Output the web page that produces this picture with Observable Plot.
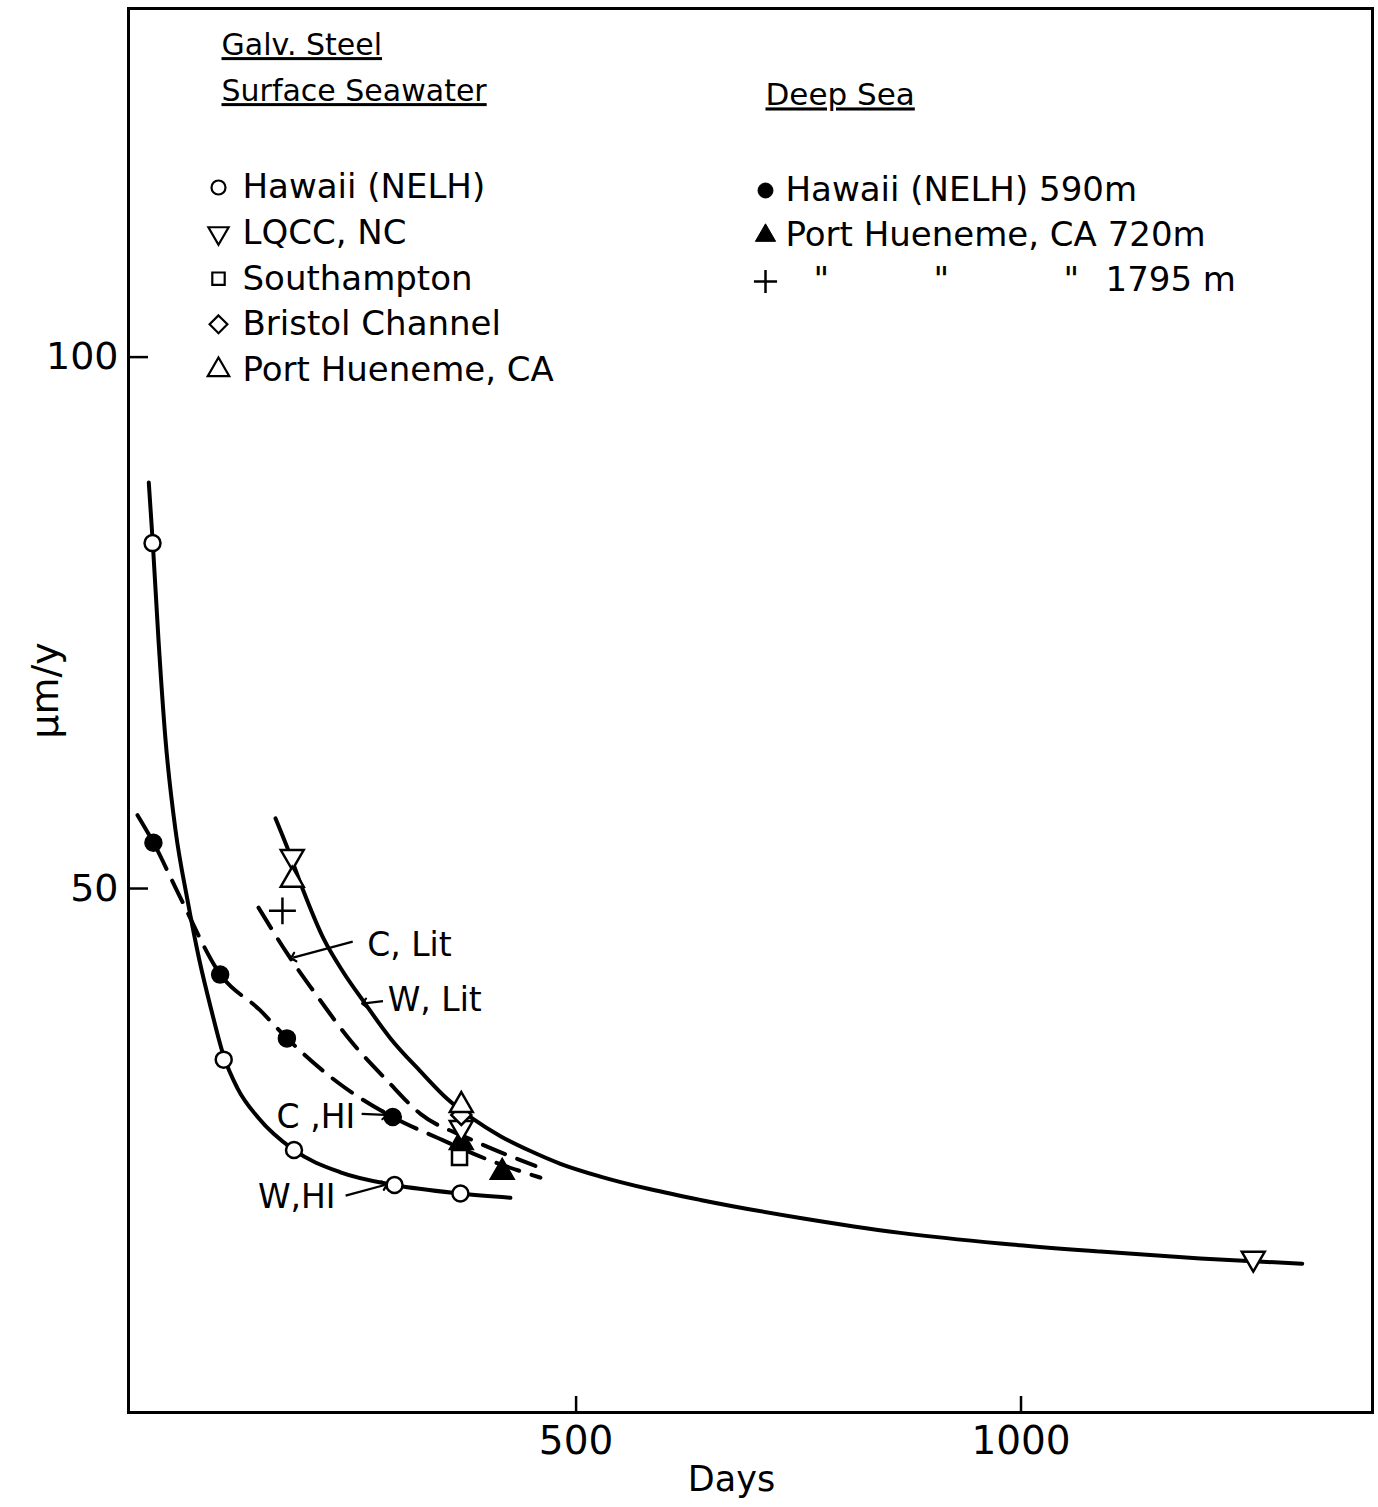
<!DOCTYPE html>
<html>
<head>
<meta charset="utf-8">
<script src="https://cdn.jsdelivr.net/npm/d3@7"></script>
<script src="https://cdn.jsdelivr.net/npm/@observablehq/plot@0.6"></script>
<style>
  html, body { margin: 0; padding: 0; background: #fff; }
  #chart svg { display: block; }
</style>
</head>
<body>
<div id="chart"></div>
<script>
// ---------- Data ----------
// Surface seawater
const hawaiiSurfDays = [24, 104, 183, 296, 370];
const hawaiiSurfRate = [82.5, 33.9, 25.4, 22.1, 21.3];
const lqccDays = [181, 371, 1261];
const lqccRate = [53.0, 27.5, 15.2];
const southamptonDays = [369];
const southamptonRate = [24.7];
const bristolDays = [371];
const bristolRate = [28.7];
const phSurfDays = [181, 371];
const phSurfRate = [50.8, 29.6];
// Deep sea
const hawaiiDeepDays = [25, 100, 175, 294];
const hawaiiDeepRate = [54.3, 41.9, 35.9, 28.5];
const ph720Days = [371, 417];
const ph720Rate = [26.1, 23.3];
const ph1795Days = [170];
const ph1795Rate = [47.9];

// Fitted curves
const wHiDays = [19.8, 24.3, 30.7, 38.6, 49.8, 63.3, 76.8, 90.3, 103.7, 119.5, 143.1, 182.7, 235.2, 295.9, 370, 426.2];
const wHiRate = [88.2, 82.5, 73.4, 64.0, 55.5, 48.9, 43.2, 38.5, 34.3, 31.2, 28.4, 25.4, 23.3, 22.1, 21.3, 20.9];
const cHiDays = [7.1, 25.1, 53.2, 100.4, 144.2, 175.3, 233, 294, 345.3, 403.7, 459.9];
const cHiRate = [56.9, 54.3, 49.5, 41.9, 38.6, 35.9, 31.7, 28.5, 26.5, 24.4, 22.8];
const cLitDays = [143.1, 176.8, 207.1, 246.4, 288, 325.1, 379, 454.3];
const cLitRate = [48.2, 43.7, 40.1, 35.7, 31.9, 28.8, 26.5, 23.9];
const wLitDays = [162.2, 175.7, 192.5, 216.1, 238.6, 261, 291.4, 325.1, 355.4, 384.6, 415, 448.7, 482.4, 527.3, 583.5, 639.7, 752, 864.4, 976.8, 1089.1, 1201.5, 1316];
const wLitRate = [56.6, 53.8, 50.0, 45.3, 42.1, 39.4, 35.9, 32.8, 30.2, 28.3, 26.7, 25.3, 24.1, 22.9, 21.7, 20.7, 19.0, 17.6, 16.6, 15.85, 15.2, 14.7];

// Axis ticks
const xTicks = [500, 1000];
const yTicks = [50, 100];

// Curve annotations
const annLabels = ["C, Lit", "W, Lit", "C ,HI", "W,HI"];
const annTextX = [263, 286, 254, 232];
const annTextY = [44.6, 39.5, 28.5, 20.9];
const annAnchor = ["start", "start", "end", "end"];
const annFromX = [249, 283, 259, 241];
const annFromY = [45.0, 39.4, 28.8, 21.1];
const annToX = [182, 262, 285, 285];
const annToY = [43.5, 39.2, 28.7, 22.1];

// Legend texts
const surfHeader = ["Galv. Steel", "Surface Seawater"];
const surfLabels = ["Hawaii (NELH)", "LQCC, NC", "Southampton", "Bristol Channel", "Port Hueneme, CA"];
const deepHeader = ["Deep Sea"];
const deepLabels = ["Hawaii (NELH) 590m", "Port Hueneme, CA 720m"];
const deepDitto = ["\"", "\"", "\"", "1795 m"];

// ---------- Helpers ----------
const zip = (xs, ys) => xs.map((x, i) => ({x, y: ys[i]}));
const triangleDown = {
  draw(context, size) {
    const s3 = Math.sqrt(3);
    const y = -Math.sqrt(size / (s3 * 3));
    context.moveTo(0, -y * 2);
    context.lineTo(-s3 * y, y);
    context.lineTo(s3 * y, y);
    context.closePath();
  }
};

const W = 1378, H = 1507;
const mL = 128, mR = 6, mT = 8, mB = 95;
const plotW = W - mL - mR, plotH = H - mT - mB;
const FONT = "DejaVu Sans";

const openStyle = {fill: "white", stroke: "black", strokeWidth: 2.5};
const filledStyle = {fill: "black", stroke: "black", strokeWidth: 1.5};

const series = [
  {pts: zip(hawaiiSurfDays, hawaiiSurfRate), symbol: "circle", r: 8, style: openStyle},
  {pts: zip(southamptonDays, southamptonRate), symbol: "square", r: 8.5, style: openStyle},
  {pts: zip(ph720Days, ph720Rate), symbol: "triangle", r: 9, style: filledStyle},
  {pts: zip(lqccDays, lqccRate), symbol: triangleDown, r: 8.5, style: openStyle},
  {pts: zip(bristolDays, bristolRate), symbol: "diamond2", r: 9, style: openStyle},
  {pts: zip(phSurfDays, phSurfRate), symbol: "triangle", r: 8.5, style: openStyle},
  {pts: zip(hawaiiDeepDays, hawaiiDeepRate), symbol: "circle", r: 8.5, style: filledStyle},
  {pts: zip(ph1795Days, ph1795Rate), symbol: "plus", r: 8.7, style: {stroke: "black", strokeWidth: 2.5}}
];

const marks = [];
// curves
const CURVE = "monotone-x";
marks.push(Plot.line(zip(wHiDays, wHiRate), {x: "x", y: "y", curve: CURVE, stroke: "black", strokeWidth: 4}));
marks.push(Plot.line(zip(wLitDays, wLitRate), {x: "x", y: "y", curve: CURVE, stroke: "black", strokeWidth: 4}));
marks.push(Plot.line(zip(cHiDays, cHiRate), {x: "x", y: "y", curve: CURVE, stroke: "black", strokeWidth: 4, strokeDasharray: "24,13"}));
marks.push(Plot.line(zip(cLitDays, cLitRate), {x: "x", y: "y", curve: CURVE, stroke: "black", strokeWidth: 4, strokeDasharray: "24,13"}));

// markers
for (const s of series) {
  marks.push(Plot.dot(s.pts, {x: "x", y: "y", symbol: () => s.symbol, r: s.r, ...s.style}));
}

// frame & ticks
marks.push(Plot.frame({stroke: "black", strokeWidth: 3}));
marks.push(Plot.tickX(xTicks, {x: d => d, insetTop: plotH - 16, stroke: "black", strokeWidth: 2.5}));
marks.push(Plot.tickY(yTicks, {y: d => d, insetRight: plotW - 20, stroke: "black", strokeWidth: 2.5}));
marks.push(Plot.text(xTicks, {x: d => d, frameAnchor: "bottom", dy: 29, text: d => String(d), fontSize: 39, fontFamily: FONT, lineAnchor: "middle"}));
marks.push(Plot.text(yTicks, {y: d => d, frameAnchor: "left", dx: -10, text: d => String(d), fontSize: 38, fontFamily: FONT, textAnchor: "end", lineAnchor: "middle"}));
marks.push(Plot.text(["Days"], {frameAnchor: "bottom", dx: -19, dy: 67, text: d => d, fontSize: 35, fontFamily: FONT, textAnchor: "middle", lineAnchor: "middle"}));
marks.push(Plot.text(["\u00b5m/y"], {frameAnchor: "left", dx: -83, dy: -20, rotate: -90, text: d => d, fontSize: 38, fontFamily: FONT, textAnchor: "middle", lineAnchor: "middle"}));

// annotations
annLabels.forEach((t, i) => {
  marks.push(Plot.text([t], {x: () => annTextX[i], y: () => annTextY[i], text: d => d, textAnchor: annAnchor[i], fontSize: 33, fontFamily: FONT, lineAnchor: "middle", dx: annAnchor[i] === "start" ? 2 : -2}));
  marks.push(Plot.link([0], {x1: () => annFromX[i], y1: () => annFromY[i], x2: () => annToX[i], y2: () => annToY[i], stroke: "black", strokeWidth: 2.2, markerEnd: "arrow"}));
});

// legend: surface seawater
const LROW = 45.6;
surfHeader.forEach((t, i) => {
  marks.push(Plot.text([t], {frameAnchor: "top-left", dx: 93, dy: 37 + i * 46, text: d => d, fontSize: 30, fontFamily: FONT, textAnchor: "start", lineAnchor: "middle"}));
});
const surfSymbols = ["circle", triangleDown, "square", "diamond2", "triangle"];
const surfSymR = [7, 7.5, 7, 8, 8];
surfLabels.forEach((t, i) => {
  marks.push(Plot.dot([0], {frameAnchor: "top-left", dx: 90, dy: 179 + i * LROW, symbol: () => surfSymbols[i], r: surfSymR[i], fill: "white", stroke: "black", strokeWidth: 2.2}));
  marks.push(Plot.text([t], {frameAnchor: "top-left", dx: 114, dy: 179 + i * LROW, text: d => d, fontSize: 34, fontFamily: FONT, textAnchor: "start", lineAnchor: "middle"}));
});
// legend: deep sea
marks.push(Plot.text(deepHeader, {frameAnchor: "top-left", dx: 637, dy: 87, text: d => d, fontSize: 31, fontFamily: FONT, textAnchor: "start", lineAnchor: "middle"}));
const deepSymbols = ["circle", "triangle"];
deepLabels.forEach((t, i) => {
  marks.push(Plot.dot([0], {frameAnchor: "top-left", dx: 637, dy: 182 + i * 45, symbol: () => deepSymbols[i], r: 7.5, fill: "black", stroke: "black", strokeWidth: 1}));
  marks.push(Plot.text([t], {frameAnchor: "top-left", dx: 657, dy: 182 + i * 45, text: d => d, fontSize: 34, fontFamily: FONT, textAnchor: "start", lineAnchor: "middle"}));
});
marks.push(Plot.dot([0], {frameAnchor: "top-left", dx: 637, dy: 273, symbol: () => "plus", r: 7.5, stroke: "black", strokeWidth: 2.5}));
const dittoDx = [685, 805, 935, 977];
deepDitto.forEach((t, i) => {
  marks.push(Plot.text([t], {frameAnchor: "top-left", dx: dittoDx[i], dy: 272, text: d => d, fontSize: 34, fontFamily: FONT, textAnchor: "start", lineAnchor: "middle"}));
});

const chart = Plot.plot({
  width: W, height: H,
  marginLeft: mL, marginRight: mR, marginTop: mT, marginBottom: mB,
  x: {domain: [-3, 1395], axis: null},
  y: {domain: [0.7, 132.8], axis: null},
  style: {fontFamily: FONT, background: "white", color: "black"},
  marks
});

const underlined = new Set([...surfHeader, ...deepHeader]);
d3.select(chart).selectAll("text").filter(function() { return underlined.has(this.textContent); }).style("text-decoration", "underline");

document.getElementById("chart").appendChild(chart);
</script>
</body>
</html>
